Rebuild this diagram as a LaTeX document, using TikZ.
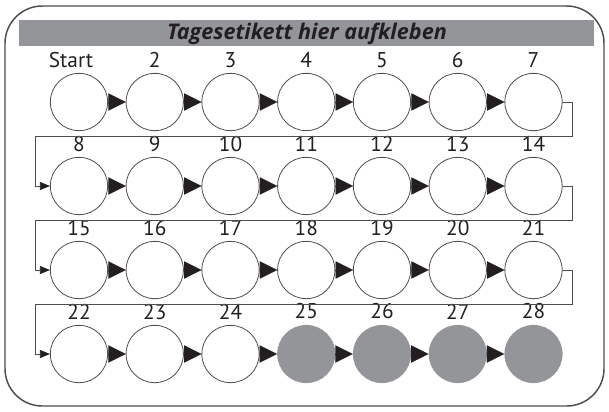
\documentclass[tikz,border=0pt]{standalone}
\usepackage{fontspec}
\setmainfont{PT Sans}
\newfontfamily\headfont{Open Sans}
\usetikzlibrary{arrows.meta,calc}
\definecolor{stickergray}{RGB}{147,149,152}
\definecolor{ink}{RGB}{35,31,32}
\definecolor{rim}{RGB}{77,77,79}

\begin{document}
\begin{tikzpicture}[x=0.75pt,y=0.75pt,yscale=-1,xscale=1,
	day/.style={circle,draw=rim,line width=0.6pt,fill=white,minimum size=43pt,inner sep=0pt},
	doneday/.style={circle,fill=stickergray,minimum size=43.6pt,inner sep=0pt},
	daylab/.style={font=\fontsize{16}{16}\selectfont,text=ink,inner sep=0pt},
	nextday/.style={ink,line width=0.1pt,-{Triangle[length=13pt,width=13pt,color=ink]}},
	wrap/.style={rim,line width=0.6pt,-{Triangle[length=7.5pt,width=6pt,color=ink]}},
	label distance=4pt]
	\useasboundingbox (0,0) rectangle (609,411);
	
	%Shape: Rounded Rect [id:frame] 
	\draw [rim,line width=1.1pt,rounded corners=28pt] (5,6) rectangle (604,406) ;
	%Shape: Rectangle [id:header] 
	\fill [stickergray] (19,20) rectangle (594,46) ;
	% Text Node
	\node (title) at (307,39.5) [anchor=base,inner sep=0pt,text=ink,font=\headfont\bfseries\itshape\fontsize{16.2}{16.2}\selectfont] {Tagesetikett hier aufkleben};
	
	%Row 1
	\node [day,label={[daylab,xshift=-6pt]above:Start}] (d1) at (79,102) {};
	\node [day,label={[daylab]above:2}] (d2) at (154.75,102) {};
	\node [day,label={[daylab]above:3}] (d3) at (230.5,102) {};
	\node [day,label={[daylab]above:4}] (d4) at (306.25,102) {};
	\node [day,label={[daylab]above:5}] (d5) at (382,102) {};
	\node [day,label={[daylab]above:6}] (d6) at (457.75,102) {};
	\node [day,label={[daylab]above:7}] (d7) at (533.5,102) {};
	%Row 2
	\node [day,label={[daylab]above:8}] (d8) at (79,186) {};
	\node [day,label={[daylab]above:9}] (d9) at (154.75,186) {};
	\node [day,label={[daylab]above:10}] (d10) at (230.5,186) {};
	\node [day,label={[daylab]above:11}] (d11) at (306.25,186) {};
	\node [day,label={[daylab]above:12}] (d12) at (382,186) {};
	\node [day,label={[daylab]above:13}] (d13) at (457.75,186) {};
	\node [day,label={[daylab]above:14}] (d14) at (533.5,186) {};
	%Row 3
	\node [day,label={[daylab]above:15}] (d15) at (79,270) {};
	\node [day,label={[daylab]above:16}] (d16) at (154.75,270) {};
	\node [day,label={[daylab]above:17}] (d17) at (230.5,270) {};
	\node [day,label={[daylab]above:18}] (d18) at (306.25,270) {};
	\node [day,label={[daylab]above:19}] (d19) at (382,270) {};
	\node [day,label={[daylab]above:20}] (d20) at (457.75,270) {};
	\node [day,label={[daylab]above:21}] (d21) at (533.5,270) {};
	%Row 4
	\node [day,label={[daylab]above:22}] (d22) at (79,354) {};
	\node [day,label={[daylab]above:23}] (d23) at (154.75,354) {};
	\node [day,label={[daylab]above:24}] (d24) at (230.5,354) {};
	\node [doneday,label={[daylab]above:25}] (d25) at (306.25,354) {};
	\node [doneday,label={[daylab]above:26}] (d26) at (382,354) {};
	\node [doneday,label={[daylab]above:27}] (d27) at (457.75,354) {};
	\node [doneday,label={[daylab]above:28}] (d28) at (533.5,354) {};
	
	%Straight Lines: arrows in row 1
	\draw [nextday] (d1) -- (d2) ;
	\draw [nextday] (d2) -- (d3) ;
	\draw [nextday] (d3) -- (d4) ;
	\draw [nextday] (d4) -- (d5) ;
	\draw [nextday] (d5) -- (d6) ;
	\draw [nextday] (d6) -- (d7) ;
	%Straight Lines: arrows in row 2
	\draw [nextday] (d8) -- (d9) ;
	\draw [nextday] (d9) -- (d10) ;
	\draw [nextday] (d10) -- (d11) ;
	\draw [nextday] (d11) -- (d12) ;
	\draw [nextday] (d12) -- (d13) ;
	\draw [nextday] (d13) -- (d14) ;
	%Straight Lines: arrows in row 3
	\draw [nextday] (d15) -- (d16) ;
	\draw [nextday] (d16) -- (d17) ;
	\draw [nextday] (d17) -- (d18) ;
	\draw [nextday] (d18) -- (d19) ;
	\draw [nextday] (d19) -- (d20) ;
	\draw [nextday] (d20) -- (d21) ;
	%Straight Lines: arrows in row 4
	\draw [nextday] (d22) -- (d23) ;
	\draw [nextday] (d23) -- (d24) ;
	\draw [nextday] (d24) -- (d25) ;
	\draw [nextday] (d25) -- (d26) ;
	\draw [nextday] (d26) -- (d27) ;
	\draw [nextday] (d27) -- (d28) ;
	
	%Straight Lines: line breaks
	\draw [wrap] (d7.east) -- ++(9.5,0) -- ++(0,34.7) -| ($(d8.west)+(-14.5,0)$) -- (d8.west) ;
	\draw [wrap] (d14.east) -- ++(9.5,0) -- ++(0,34.7) -| ($(d15.west)+(-14.5,0)$) -- (d15.west) ;
	\draw [wrap] (d21.east) -- ++(9.5,0) -- ++(0,34.7) -| ($(d22.west)+(-14.5,0)$) -- (d22.west) ;
	
\end{tikzpicture}
\end{document}
